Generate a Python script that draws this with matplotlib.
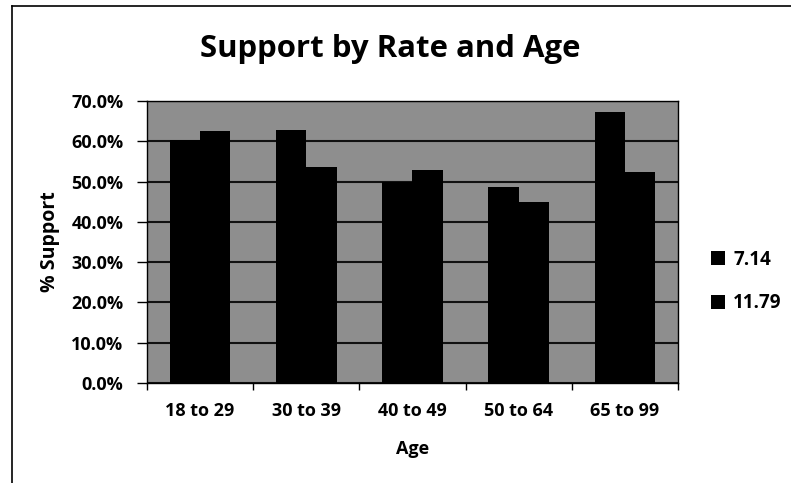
import numpy as np
import matplotlib
matplotlib.use('Agg')
import matplotlib.pyplot as plt
import matplotlib.ticker as ticker

plt.rcParams['font.family'] = ['Open Sans', 'DejaVu Sans']
plt.rcParams['font.weight'] = 'bold'

# data
ages = ['18 to 29', '30 to 39', '40 to 49', '50 to 64', '65 to 99']
rate_714 = [60.3, 62.8, 49.8, 48.6, 67.2]
rate_1179 = [62.6, 53.5, 52.9, 45.0, 52.3]
series_names = ['7.14', '11.79']

fig = plt.figure(figsize=(7.91, 4.83), dpi=100)
ax = fig.add_axes([0.1858, 0.2070, 0.6713, 0.5839])

x = np.arange(len(ages))
w = 0.2857
ax.bar(x - w / 2, rate_714, width=w, color='black', label=series_names[0], zorder=3)
ax.bar(x + w / 2, rate_1179, width=w, color='black', label=series_names[1], zorder=3)

ax.set_facecolor('#8e8e8e')
ax.set_xlim(-0.5, len(ages) - 0.5)
ax.set_ylim(0, 70)
ax.yaxis.set_major_locator(ticker.MultipleLocator(10))
ax.yaxis.set_major_formatter(ticker.FuncFormatter(lambda v, p: '%.1f%%' % v))
ax.grid(axis='y', color='#111111', linewidth=1.5, zorder=1)
ax.set_axisbelow(True)

# category ticks sit on the boundaries, labels at centres
ax.set_xticks(np.arange(len(ages) + 1) - 0.5)
ax.set_xticklabels([])
ax.set_xticks(x, minor=True)
ax.set_xticklabels(ages, minor=True)
ax.tick_params(axis='x', which='major', length=5, width=1, direction='out')
ax.tick_params(axis='x', which='minor', length=0, pad=14, labelsize=13)
ax.tick_params(axis='y', length=7, width=1, direction='out', pad=10, labelsize=13)

for s in ax.spines.values():
    s.set_color('black')
    s.set_linewidth(1)

ax.set_xlabel('Age', fontsize=13, fontweight='bold', labelpad=14)
ax.set_ylabel('% Support', fontsize=14, fontweight='bold', labelpad=8)
fig.text(0.493, 0.882, 'Support by Rate and Age', ha='center', va='baseline',
         fontsize=22.4, fontweight='bold')

ax.legend(loc='center left', bbox_to_anchor=(1.03, 0.36), frameon=False,
          fontsize=13.5, handlelength=0.75, handleheight=0.75, handletextpad=0.45,
          labelspacing=1.25)

# outer chart frame (only top and left survive in the scan)
fig.add_artist(plt.Line2D([12 / 791, 12 / 791], [0, 1 - 6 / 483], color='black', linewidth=1.2))
fig.add_artist(plt.Line2D([12 / 791, 1], [1 - 6 / 483, 1 - 6 / 483], color='black', linewidth=1.2))

fig.savefig('out.png', dpi=100)
